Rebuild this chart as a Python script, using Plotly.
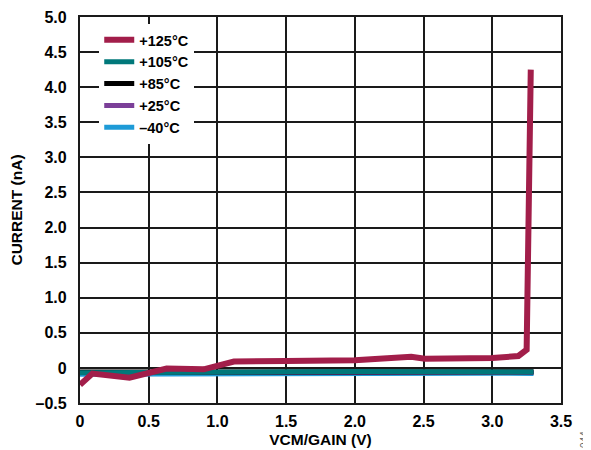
import plotly.graph_objects as go

# Data
x_125 = [0, 0.09, 0.36, 0.63, 0.9, 1.12, 1.5, 2.0, 2.41, 2.51, 3.0, 3.19, 3.25, 3.28]
y_125 = [-0.24, -0.08, -0.14, -0.01, -0.02, 0.09, 0.10, 0.11, 0.16, 0.13, 0.14, 0.17, 0.26, 4.25]

x_105 = [0, 0.5, 1.0, 1.5, 2.0, 2.5, 3.0, 3.3]
y_105 = [-0.07, -0.07, -0.06, -0.055, -0.05, -0.055, -0.06, -0.06]

x_85 = [0, 0.5, 1.0, 1.5, 2.0, 2.5, 3.0, 3.3]
y_85 = [-0.06, -0.06, -0.055, -0.05, -0.05, -0.05, -0.05, -0.055]

x_25 = [0, 0.5, 1.0, 1.5, 2.0, 2.5, 3.0, 3.3]
y_25 = [-0.065, -0.065, -0.06, -0.06, -0.055, -0.06, -0.06, -0.065]

x_m40 = [0, 0.5, 1.0, 1.5, 2.0, 2.5, 3.0, 3.3]
y_m40 = [-0.09, -0.085, -0.08, -0.075, -0.07, -0.075, -0.075, -0.08]

x_ticks = [0, 0.5, 1.0, 1.5, 2.0, 2.5, 3.0, 3.5]
x_ticktext = ["0", "0.5", "1.0", "1.5", "2.0", "2.5", "3.0", "3.5"]
y_ticks = [-0.5, 0, 0.5, 1.0, 1.5, 2.0, 2.5, 3.0, 3.5, 4.0, 4.5, 5.0]
y_ticktext = ["–0.5", "0", "0.5", "1.0", "1.5", "2.0", "2.5", "3.0", "3.5", "4.0", "4.5", "5.0"]

series = [
    ("–40°C", x_m40, y_m40, "#1E9BD7", 5),
    ("+25°C", x_25, y_25, "#7B3F98", 5),
    ("+85°C", x_85, y_85, "#000000", 5),
    ("+105°C", x_105, y_105, "#00787A", 5),
    ("+125°C", x_125, y_125, "#A21E4A", 6),
]

FAMILY = "Liberation Sans, Arial, sans-serif"

fig = go.Figure()
for name, xs, ys, col, w in series:
    fig.add_trace(go.Scatter(x=xs, y=ys, mode="lines", name=f"<b>{name}</b>",
                             line=dict(color=col, width=w)))

axis_common = dict(showgrid=True, gridcolor="#1a1a1a", gridwidth=1.6,
                   showline=True, linecolor="#1a1a1a", linewidth=2.2, mirror=True,
                   zeroline=False, ticks="", automargin=False,
                   tickfont=dict(family=FAMILY, size=16, color="black"))

fig.update_layout(
    width=583, height=442,
    margin=dict(l=72, r=30, t=9, b=47),
    plot_bgcolor="white", paper_bgcolor="white",
    font=dict(family=FAMILY, size=14, color="black"),
    showlegend=True,
    legend=dict(x=0.04, y=0.982, xanchor="left", yanchor="top",
                traceorder="reversed", bgcolor="white",
                font=dict(family=FAMILY, size=14.5, color="black"),
                tracegroupgap=0),
    xaxis=dict(range=[0, 3.5], tickvals=x_ticks, ticktext=[f"<b>{t}</b>" for t in x_ticktext],
               title=dict(text="<b>VCM/GAIN (V)</b>", font=dict(size=15.5, family=FAMILY), standoff=5),
               ticklabelstandoff=3,
               **axis_common),
    yaxis=dict(range=[-0.5, 5.0], tickvals=y_ticks, ticktext=[f"<b>{t}</b>" for t in y_ticktext],
               title=dict(text="<b>CURRENT (nA)</b>", font=dict(size=15.5, family=FAMILY), standoff=18),
               ticklabelstandoff=8,
               **axis_common),
)

fig.add_annotation(text="044", xref="paper", yref="paper", x=1.064, y=-0.122,
                   showarrow=False, textangle=-90,
                   font=dict(size=10, color="#666666", family=FAMILY))

fig.write_html("out.html")
